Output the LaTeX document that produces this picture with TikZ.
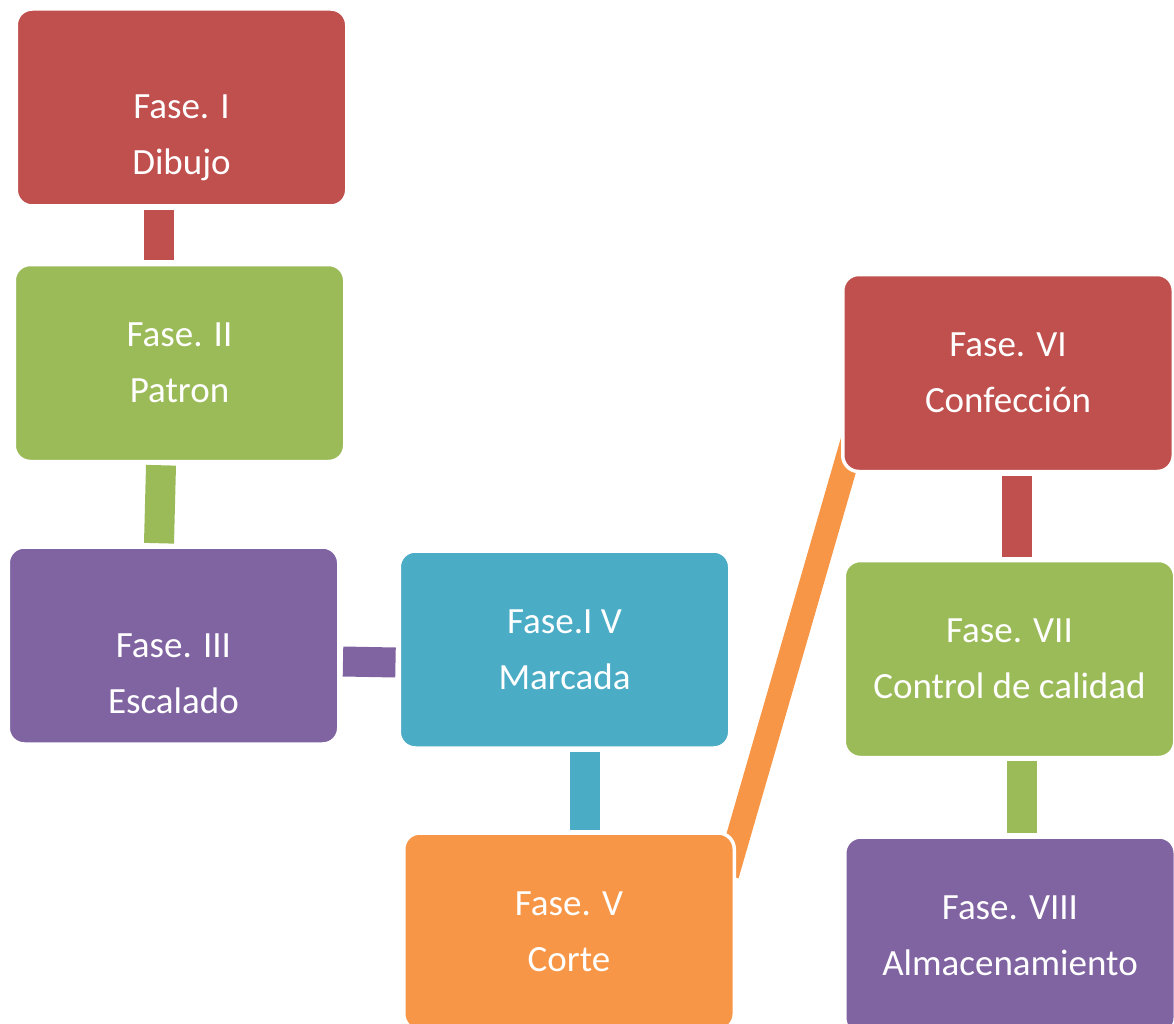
\documentclass[tikz,border=0pt]{standalone}
\usepackage{fontspec}
\setmainfont{Carlito}
\usetikzlibrary{calc,backgrounds}

\definecolor{phasered}{HTML}{C0504D}
\definecolor{phasegreen}{HTML}{9BBB59}
\definecolor{phasepurple}{HTML}{8064A2}
\definecolor{phaseaqua}{HTML}{4BACC6}
\definecolor{phaseorange}{HTML}{F79646}

% strut giving every text line the same height and depth
\newcommand{\linestrut}{\rule[-7pt]{0pt}{37pt}}

\tikzset{
  phasebox/.style={rectangle, rounded corners=16pt, draw=white, line width=3.5pt,
    minimum width=330.5pt, minimum height=197pt, inner sep=0pt,
    text=white, align=center, font=\fontsize{37}{56}\selectfont},
  linkbar/.style={line width=30pt, line cap=butt},
  slantbar/.style={line width=24pt, line cap=butt}
}

\begin{document}
\begin{tikzpicture}[x=1pt, y=-1pt]
\useasboundingbox (0,0) rectangle (1174,1024);

% phase boxes
\node[phasebox, fill=phasered]    (I)    at (181.5,107.5) {\linestrut\\\linestrut Fase. I\\\linestrut Dibujo};
\node[phasebox, fill=phasegreen]  (II)   at (179.5,363)   {\linestrut Fase. II\\\linestrut Patron};
\node[phasebox, fill=phasepurple] (III)  at (173.5,645.5) {\linestrut\\\linestrut Fase. III\\\linestrut Escalado};
\node[phasebox, fill=phaseaqua]   (IV)   at (564.5,649.5) {\linestrut Fase.I V\\\linestrut Marcada};
\node[phasebox, fill=phaseorange] (V)    at (569,931.5)   {\linestrut Fase. V\\\linestrut Corte};
\node[phasebox, fill=phasered]    (VI)   at (1008,373)    {\linestrut Fase. VI\\\linestrut Confección};
\node[phasebox, fill=phasegreen]  (VII)  at (1009.5,659)  {\linestrut Fase. VII\\\linestrut Control de calidad};
\node[phasebox, fill=phasepurple] (VIII) at (1010,935.5)  {\linestrut Fase. VIII\\\linestrut Almacenamiento};

% connecting bars, drawn behind the boxes
\begin{scope}[on background layer]
  \draw[linkbar, phasered]    ($(I.south)+(-22.5,2.5)$)   -- ($(II.north)+(-20.5,-2.5)$);
  \draw[linkbar, phasegreen]  ($(II.south)+(-18.5,2)$)    -- ($(III.north)+(-14.5,-2)$);
  \draw[linkbar, phasepurple] ($(III.east)+(2.5,16)$)     -- ($(IV.west)+(-2,13)$);
  \draw[linkbar, phaseaqua]   ($(IV.south)+(20.5,2.5)$)   -- ($(V.north)+(16,-1.5)$);
  \draw[slantbar, phaseorange] ($(V.center)+(158,-56.5)$) -- ($(VI.center)+(-148,42)$);
  \draw[linkbar, phasered]    ($(VI.south)+(9,2.5)$)      -- ($(VII.north)+(7.5,-2)$);
  \draw[linkbar, phasegreen]  ($(VII.south)+(12,2)$)      -- ($(VIII.north)+(11.5,-2)$);
\end{scope}
\end{tikzpicture}
\end{document}
